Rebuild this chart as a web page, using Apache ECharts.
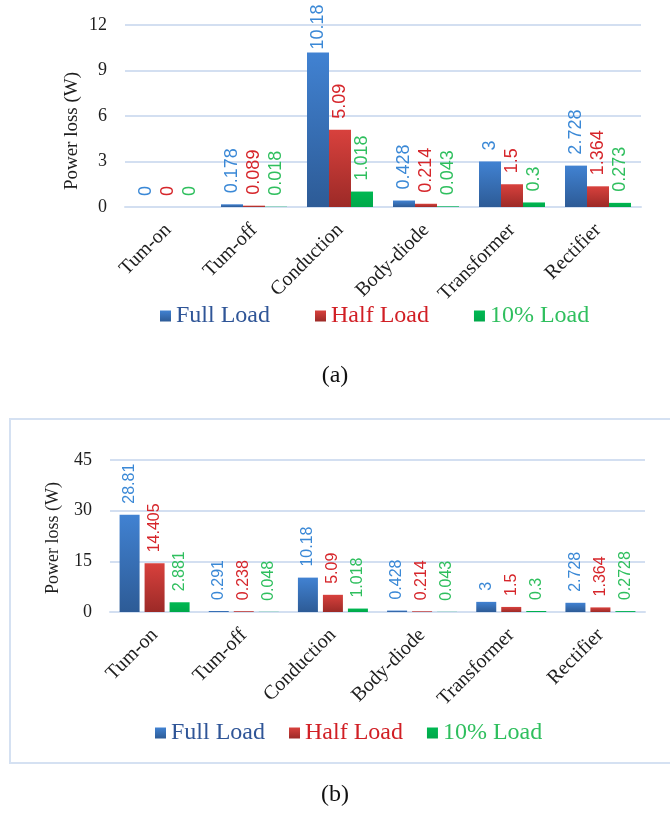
<!DOCTYPE html>
<html>
<head>
<meta charset="utf-8">
<script src="https://cdn.jsdelivr.net/npm/echarts@6/dist/echarts.min.js"></script>
<style>
  html, body { margin: 0; padding: 0; background: #fff; }
  #chart { width: 670px; height: 813px; }
</style>
</head>
<body>
<div id="chart"></div>
<script>
// Loss categories shared by both panels
const categories = ['Tum-on', 'Tum-off', 'Conduction', 'Body-diode', 'Transformer', 'Rectifier'];
const seriesNames = ['Full Load', 'Half Load', '10% Load'];

// Panel (a): power loss per component (W)
const aFull = [0, 0.178, 10.18, 0.428, 3, 2.728];
const aHalf = [0, 0.089, 5.09, 0.214, 1.5, 1.364];
const aTen  = [0, 0.018, 1.018, 0.043, 0.3, 0.273];

// Panel (b): power loss per component (W)
const bFull = [28.81, 0.291, 10.18, 0.428, 3, 2.728];
const bHalf = [14.405, 0.238, 5.09, 0.214, 1.5, 1.364];
const bTen  = [2.881, 0.048, 1.018, 0.043, 0.3, 0.2728];

// Value axis ranges
const aMax = 12, aStep = 3;
const bMax = 45, bStep = 15;

const SERIF = '"Liberation Serif", "Times New Roman", serif';
const SANS = '"Liberation Sans", Arial, sans-serif';
const GRID_LINE = '#d3dff1';

const barFill = [
  new echarts.graphic.LinearGradient(0, 0, 0, 1, [
    { offset: 0, color: '#4182d2' }, { offset: 1, color: '#2d5b96' }]),
  new echarts.graphic.LinearGradient(0, 0, 0, 1, [
    { offset: 0, color: '#d8413d' }, { offset: 1, color: '#9c2a27' }]),
  new echarts.graphic.LinearGradient(0, 0, 0, 1, [
    { offset: 0, color: '#00b852' }, { offset: 1, color: '#00a84a' }])
];
const labelColors = ['#3a88d6', '#d6262b', '#2fbf5e'];
const legendColors = ['#2f5597', '#d11f25', '#2fbf5e'];

function makeSeries(values, idx, gridIdx, max, fontSize, barWidth, barGap) {
  return {
    name: seriesNames[idx],
    type: 'bar',
    xAxisIndex: gridIdx,
    yAxisIndex: gridIdx,
    barWidth: barWidth,
    barGap: barGap,
    itemStyle: { color: barFill[idx] },
    // labels near the top of the axis are tucked closer to their bar
    data: values.map(v => ({
      value: v,
      label: { distance: v / max > 0.8 ? 3 : 11 }
    })),
    label: {
      show: true,
      position: 'top',
      rotate: 90,
      align: 'left',
      verticalAlign: 'middle',
      fontFamily: SANS,
      fontSize: fontSize,
      color: labelColors[idx]
    },
    emphasis: { disabled: true },
    animation: false
  };
}

function xAxisFor(gridIdx, margin) {
  return {
    type: 'category',
    gridIndex: gridIdx,
    data: categories,
    axisTick: { show: false },
    axisLine: { lineStyle: { color: GRID_LINE, width: 2 } },
    axisLabel: {
      interval: 0,
      rotate: 45,
      margin: margin,
      fontFamily: SERIF,
      fontSize: 20,
      color: '#1e1e1e'
    }
  };
}

function yAxisFor(gridIdx, max, step) {
  return {
    type: 'value',
    gridIndex: gridIdx,
    min: 0,
    max: max,
    interval: step,
    axisLine: { show: false },
    axisTick: { show: false },
    splitLine: { lineStyle: { color: GRID_LINE, width: 2 } },
    axisLabel: {
      margin: 18,
      fontFamily: SERIF,
      fontSize: 18,
      color: '#1e1e1e'
    }
  };
}

function legendFor(left, top, gap) {
  return {
    left: left,
    top: top,
    itemGap: gap,
    itemWidth: 11,
    itemHeight: 11,
    icon: 'rect',
    selectedMode: false,
    textStyle: { fontFamily: SERIF, fontSize: 24 },
    data: seriesNames.map((n, i) => ({ name: n, textStyle: { color: legendColors[i] } }))
  };
}

const chart = echarts.init(document.getElementById('chart'), null, { renderer: 'canvas' });

chart.setOption({
  backgroundColor: '#ffffff',
  animation: false,
  grid: [
    { left: 125, right: 29, top: 25, height: 182 },
    { left: 110, right: 25, top: 460, height: 152 }
  ],
  xAxis: [xAxisFor(0, 20), xAxisFor(1, 20)],
  yAxis: [yAxisFor(0, aMax, aStep), yAxisFor(1, bMax, bStep)],
  legend: [legendFor(155, 299, 45), legendFor(150, 716, 24)],
  series: [
    makeSeries(aFull, 0, 0, aMax, 18, 22, '0%'),
    makeSeries(aHalf, 1, 0, aMax, 18, 22, '0%'),
    makeSeries(aTen, 2, 0, aMax, 18, 22, '0%'),
    makeSeries(bFull, 0, 1, bMax, 16, 20, '25%'),
    makeSeries(bHalf, 1, 1, bMax, 16, 20, '25%'),
    makeSeries(bTen, 2, 1, bMax, 16, 20, '25%')
  ],
  graphic: [
    // frame around panel (b)
    {
      type: 'rect',
      shape: { x: 10, y: 419, width: 680, height: 344 },
      style: { fill: 'none', stroke: '#d5e1f2', lineWidth: 2 },
      silent: true
    },
    // value-axis titles
    {
      type: 'text',
      x: 72, y: 131,
      rotation: Math.PI / 2,
      style: {
        text: 'Power loss (W)', fontFamily: SERIF, fontSize: 19, fill: '#1e1e1e',
        textAlign: 'center', textVerticalAlign: 'middle'
      }
    },
    {
      type: 'text',
      x: 53, y: 538,
      rotation: Math.PI / 2,
      style: {
        text: 'Power loss (W)', fontFamily: SERIF, fontSize: 18, fill: '#1e1e1e',
        textAlign: 'center', textVerticalAlign: 'middle'
      }
    },
    // panel captions
    {
      type: 'text',
      x: 335, y: 376,
      style: {
        text: '(a)', fontFamily: SERIF, fontSize: 24, fill: '#111',
        textAlign: 'center', textVerticalAlign: 'middle'
      }
    },
    {
      type: 'text',
      x: 335, y: 795,
      style: {
        text: '(b)', fontFamily: SERIF, fontSize: 24, fill: '#111',
        textAlign: 'center', textVerticalAlign: 'middle'
      }
    }
  ]
});
</script>
</body>
</html>
